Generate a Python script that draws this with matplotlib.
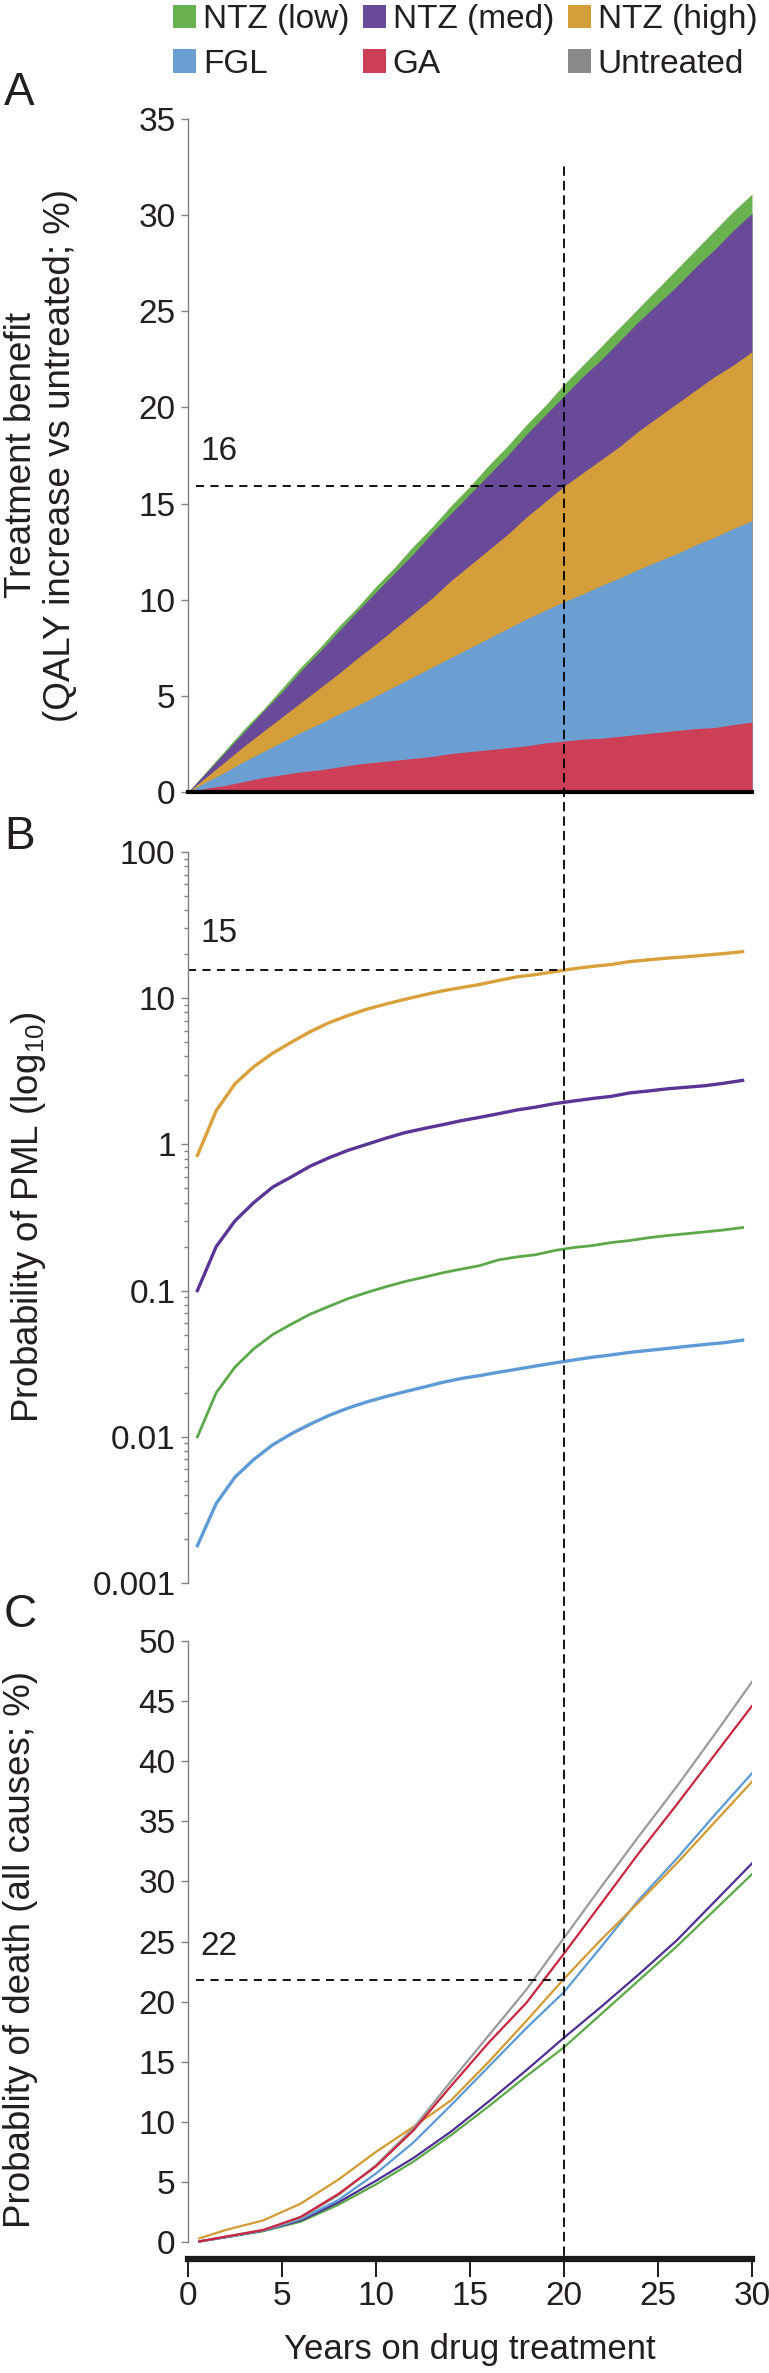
import matplotlib
matplotlib.use("Agg")
import matplotlib.pyplot as plt
from matplotlib.patches import Patch, ConnectionPatch
import matplotlib.ticker as mticker

plt.rcParams['font.family'] = ['Liberation Sans', 'DejaVu Sans']
plt.rcParams['mathtext.default'] = 'regular'

# colours
c_low = '#6ab150'
c_med = '#684a99'
c_high = '#d49e3a'
c_fgl = '#6c9fd1'
c_ga = '#cc3f57'
c_untr = '#8a8a8a'

# legend
legend_names = ['NTZ (low)', 'NTZ (med)', 'NTZ (high)', 'FGL', 'GA', 'Untreated']

# Panel A - treatment benefit (QALY increase vs untreated, %)
years_a = list(range(0, 31))
benefit_low = [0, 1.1, 2.2, 3.3, 4.3, 5.4, 6.5, 7.5, 8.6, 9.6, 10.7, 11.7, 12.8, 13.8, 14.9, 15.9,
               17.0, 18.0, 19.1, 20.1, 21.2, 22.2, 23.2, 24.2, 25.2, 26.2, 27.2, 28.2, 29.2, 30.2, 31.1]
benefit_med = [0, 1.05, 2.1, 3.15, 4.2, 5.2, 6.3, 7.3, 8.35, 9.4, 10.4, 11.4, 12.4, 13.5, 14.5, 15.5,
               16.5, 17.5, 18.6, 19.6, 20.6, 21.6, 22.5, 23.5, 24.5, 25.4, 26.3, 27.3, 28.2, 29.2, 30.1]
benefit_high = [0, 0.8, 1.6, 2.4, 3.15, 3.9, 4.65, 5.4, 6.15, 6.95, 7.7, 8.5, 9.3, 10.1, 11.0, 11.8,
                12.6, 13.4, 14.3, 15.1, 15.9, 16.6, 17.3, 18.0, 18.8, 19.5, 20.2, 20.9, 21.6, 22.2, 22.9]
benefit_fgl = [0, 0.55, 1.05, 1.6, 2.1, 2.6, 3.1, 3.55, 4.05, 4.5, 5.0, 5.5, 6.0, 6.5, 7.0, 7.5,
               8.0, 8.5, 9.0, 9.45, 9.9, 10.3, 10.75, 11.15, 11.6, 12.0, 12.4, 12.85, 13.25, 13.7, 14.1]
benefit_ga = [0, 0.2, 0.35, 0.55, 0.75, 0.9, 1.05, 1.15, 1.3, 1.45, 1.55, 1.65, 1.75, 1.85, 2.0, 2.1,
              2.2, 2.3, 2.4, 2.55, 2.65, 2.75, 2.8, 2.9, 3.0, 3.1, 3.2, 3.3, 3.35, 3.5, 3.64]

# Panel B - probability of PML (%), log scale
years_b = [0.5, 1.5, 2.5, 3.5, 4.5, 5.5, 6.5, 7.5, 8.5, 9.5, 10.5, 11.5, 12.5, 13.5, 14.5,
           15.5, 16.5, 17.5, 18.5, 19.5, 20.5, 21.5, 22.5, 23.5, 24.5, 25.5, 26.5, 27.5, 28.5, 29.5]
pml_high = [0.84, 1.7, 2.6, 3.4, 4.2, 5.0, 5.9, 6.8, 7.6, 8.4, 9.1, 9.8, 10.5, 11.2, 11.8,
            12.4, 13.2, 14.0, 14.5, 15.2, 15.9, 16.5, 17.0, 17.8, 18.3, 18.8, 19.2, 19.7, 20.2, 20.8]
pml_med = [0.10, 0.20, 0.30, 0.40, 0.51, 0.60, 0.71, 0.81, 0.91, 1.0, 1.1, 1.2, 1.28, 1.36, 1.45,
           1.53, 1.62, 1.72, 1.80, 1.90, 1.98, 2.06, 2.13, 2.25, 2.32, 2.40, 2.46, 2.52, 2.62, 2.74]
pml_low = [0.010, 0.020, 0.030, 0.040, 0.050, 0.059, 0.069, 0.078, 0.088, 0.097, 0.106, 0.115, 0.123, 0.132, 0.140,
           0.148, 0.162, 0.170, 0.176, 0.188, 0.197, 0.203, 0.213, 0.220, 0.230, 0.238, 0.245, 0.252, 0.260, 0.270]
pml_fgl = [0.0018, 0.0035, 0.0053, 0.0070, 0.0088, 0.0105, 0.0122, 0.0140, 0.0157, 0.0173, 0.0188, 0.0203, 0.0218, 0.0235, 0.0250,
           0.0262, 0.0276, 0.0290, 0.0305, 0.0320, 0.0335, 0.0350, 0.0363, 0.0378, 0.0390, 0.0402, 0.0415, 0.0428, 0.0440, 0.0458]

# Panel C - probability of death, all causes (%)
years_c = [0.6, 2, 4, 6, 8, 10, 12, 14, 16, 18, 20, 22, 24, 26, 28, 30]
death_untr = [0.05, 0.45, 1.0, 2.0, 3.9, 6.4, 9.5, 13.4, 17.2, 21.0, 25.3, 29.6, 33.8, 37.9, 42.2, 46.6]
death_ga = [0.05, 0.45, 1.0, 2.1, 4.0, 6.3, 9.3, 13.0, 16.6, 19.9, 24.0, 28.2, 32.4, 36.4, 40.5, 44.6]
death_high = [0.3, 1.0, 1.8, 3.2, 5.2, 7.5, 9.6, 11.8, 15.0, 18.4, 21.9, 25.2, 28.3, 31.5, 34.9, 38.3]
death_fgl = [0.05, 0.4, 0.95, 1.9, 3.5, 5.7, 8.3, 11.4, 14.6, 17.8, 20.8, 24.6, 28.5, 31.9, 35.5, 39.0]
death_med = [0.05, 0.4, 0.95, 1.8, 3.3, 5.1, 7.0, 9.2, 11.7, 14.3, 17.0, 19.6, 22.3, 25.1, 28.3, 31.5]
death_low = [0.05, 0.4, 0.9, 1.7, 3.1, 4.8, 6.7, 8.9, 11.3, 13.8, 16.2, 19.0, 21.8, 24.6, 27.6, 30.6]

W, H = 769, 2373
fig = plt.figure(figsize=(W / 100, H / 100), dpi=100)

def ax_at(top, bottom, left=188, right=752):
    return fig.add_axes([left / W, 1 - bottom / H, (right - left) / W, (bottom - top) / H])

axA = ax_at(119, 792)
axB = ax_at(852, 1583)
axC = ax_at(1641, 2259)

spine_grey = '#808080'
txt = '#231f20'
tick_fs = 24
dash = (4.5, 3.5)

for ax in (axA, axB, axC):
    ax.set_xlim(0, 30)
    ax.spines['top'].set_visible(False)
    ax.spines['right'].set_visible(False)
    ax.spines['left'].set_color(spine_grey)
    ax.spines['left'].set_linewidth(1)
    ax.tick_params(axis='y', which='major', direction='out', length=5, width=1,
                   color=spine_grey, labelsize=tick_fs, labelcolor=txt, pad=4)
    ax.patch.set_visible(False)

# ---- Panel A
axA.fill_between(years_a, 0, benefit_low, color=c_low, lw=0)
axA.fill_between(years_a, 0, benefit_med, color=c_med, lw=0)
axA.fill_between(years_a, 0, benefit_high, color=c_high, lw=0)
axA.fill_between(years_a, 0, benefit_fgl, color=c_fgl, lw=0)
axA.fill_between(years_a, 0, benefit_ga, color=c_ga, lw=0)
axA.set_ylim(0, 35)
axA.set_yticks(range(0, 36, 5))
axA.spines['bottom'].set_color('black')
axA.spines['bottom'].set_linewidth(3)
axA.tick_params(axis='x', bottom=False, labelbottom=False)
axA.plot([0.4, 20], [15.9, 15.9], color='black', lw=1.3, dashes=dash)
axA.text(0.65, 17.7, '16', fontsize=24, color=txt, ha='left', va='center')

# ---- Panel B
axB.plot(years_b, pml_high, color='#d9a03c', lw=2.4)
axB.plot(years_b, pml_med, color='#5a3596', lw=2.4)
axB.plot(years_b, pml_low, color='#5ca84a', lw=2.0)
axB.plot(years_b, pml_fgl, color='#5e9ad6', lw=2.4)
axB.set_yscale('log')
axB.set_ylim(0.001, 100)
axB.set_yticks([0.001, 0.01, 0.1, 1, 10, 100])
axB.set_yticklabels(['0.001', '0.01', '0.1', '1', '10', '100'])
axB.yaxis.set_minor_locator(mticker.LogLocator(base=10, subs=range(2, 10)))
axB.yaxis.set_minor_formatter(mticker.NullFormatter())
axB.tick_params(axis='y', which='minor', direction='out', length=3, width=1, color=spine_grey)
axB.spines['bottom'].set_visible(False)
axB.tick_params(axis='x', bottom=False, labelbottom=False)
axB.plot([0, 20], [15.5, 15.5], color='black', lw=1.3, dashes=dash)
axB.text(0.65, 27.7, '15', fontsize=24, color=txt, ha='left', va='center')

# ---- Panel C
axC.plot(years_c, death_low, color='#5aa846', lw=1.6)
axC.plot(years_c, death_med, color='#4e2f93', lw=1.6)
axC.plot(years_c, death_fgl, color='#5b9bd5', lw=1.6)
axC.plot(years_c, death_high, color='#d39a32', lw=1.6)
axC.plot(years_c, death_untr, color='#9b9b9b', lw=1.6)
axC.plot(years_c, death_ga, color='#c8273f', lw=1.6)
axC.set_ylim(-1.41, 50)
axC.spines['left'].set_bounds(0, 50)
axC.set_yticks(range(0, 51, 5))
axC.spines['bottom'].set_color('#1a1a1a')
axC.spines['bottom'].set_linewidth(4.5)
axC.set_xticks(range(0, 31, 5))
axC.tick_params(axis='x', direction='out', length=13, width=1.4, color='#1a1a1a',
                labelsize=tick_fs, labelcolor=txt, pad=3)
axC.set_xlabel('Years on drug treatment', fontsize=25, color=txt, labelpad=15)
axC.plot([0.4, 20], [21.8, 21.8], color='black', lw=1.3, dashes=dash)
axC.text(0.65, 24.6, '22', fontsize=24, color=txt, ha='left', va='center')

# vertical guide at 20 years, running through all three panels
vline = ConnectionPatch(xyA=(20, 32.5), coordsA=axA.transData,
                        xyB=(20, -1.41), coordsB=axC.transData,
                        color='black', lw=1.3, linestyle=(0, dash))
fig.add_artist(vline)

# y labels and panel letters
fig.text(41 / W, 1 - 455 / H, 'Treatment benefit\n(QALY increase vs untreated; %)',
         rotation=90, ha='center', va='center', multialignment='center',
         fontsize=26.5, color=txt, linespacing=1.15)
fig.text(29 / W, 1 - 1217 / H, 'Probability of PML (log$_{10}$)',
         rotation=90, ha='center', va='center', fontsize=26.5, color=txt)
fig.text(21 / W, 1 - 1950 / H, 'Probablity of death (all causes; %)',
         rotation=90, ha='center', va='center', fontsize=26.5, color=txt)
for letter, yc in (('A', 93), ('B', 837), ('C', 1615)):
    fig.text(4 / W, 1 - yc / H, letter, fontsize=33, color=txt, ha='left', va='center')

# legend (column-wise fill, so order items per column)
colours = [c_low, c_med, c_high, c_fgl, c_ga, c_untr]
handles = [Patch(facecolor=c, edgecolor='none') for c in colours]
order = [0, 3, 1, 4, 2, 5]
fig.legend([handles[i] for i in order], [legend_names[i] for i in order],
           ncol=3, loc='upper left', bbox_to_anchor=(173 / W, 0.9982),
           frameon=False, fontsize=24, handlelength=0.7, handleheight=0.7,
           handletextpad=0.2, columnspacing=0.4, labelspacing=0.4, borderpad=0,
           borderaxespad=0, labelcolor=txt)

fig.savefig('out.png', dpi=100)
